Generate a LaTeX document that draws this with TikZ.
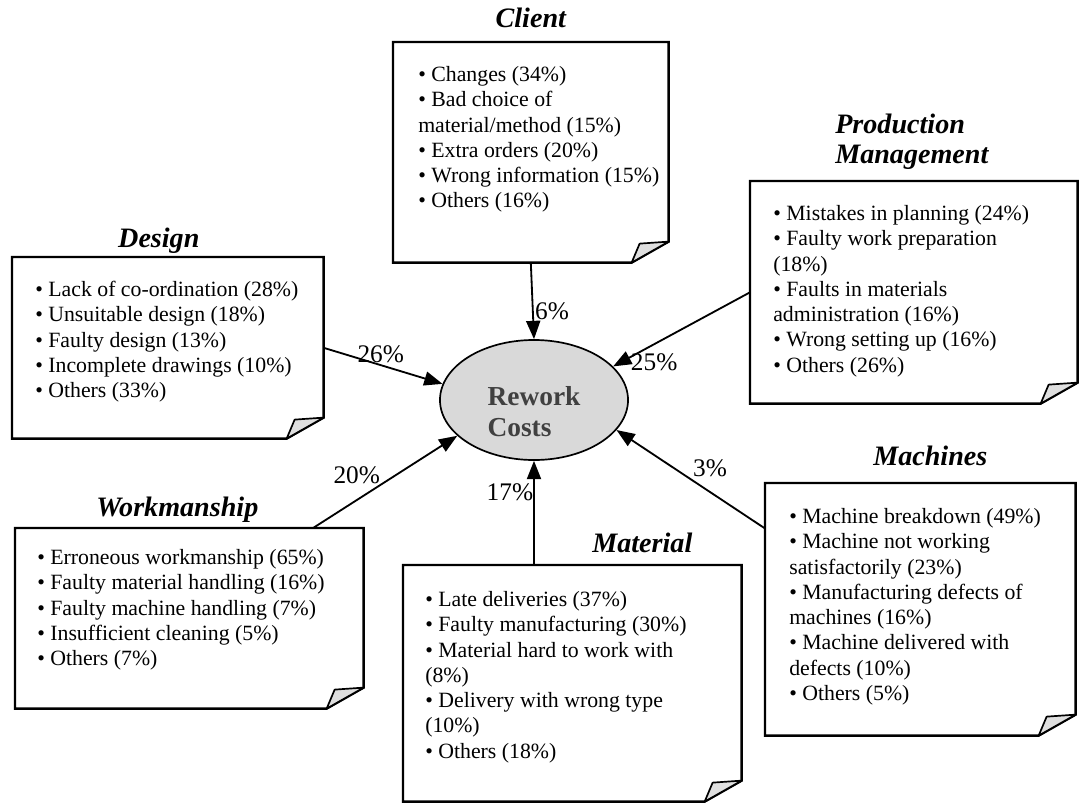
\documentclass[tikz,border=0pt]{standalone}
\usepackage{fontspec}
\setmainfont{Liberation Serif}
\usetikzlibrary{arrows.meta,calc,shapes.geometric}

% paper sheet with a dog-ear at the lower right corner
\newcommand{\foldbox}[1]{%
	\draw[boxline] (#1.north west) -- (#1.north east) -- ([shift={(0,-21)}]#1.south east)
		-- ([shift={(-37,0)}]#1.south east) -- (#1.south west) -- cycle;
	\filldraw[flap] ([shift={(-37,0)}]#1.south east) -- ([shift={(-29,-19)}]#1.south east)
		-- ([shift={(0,-21)}]#1.south east) -- cycle;
}

\begin{document}
\begin{tikzpicture}[x=0.025cm, y=-0.025cm,
	sheet/.style={rectangle, inner sep=0pt, anchor=north west},
	boxline/.style={line width=1.7pt, line join=miter},
	flap/.style={line width=1.2pt, fill=gray!25, line join=round},
	list/.style={anchor=north west, inner sep=0pt, align=left, font=\fontsize{15.5}{18}\selectfont},
	title/.style={anchor=base, inner sep=0pt, font=\fontsize{20}{21.3}\selectfont\bfseries\itshape},
	pct/.style={font=\fontsize{18}{20}\selectfont, inner sep=1pt},
	arr/.style={line width=1.3pt, -{Triangle[length=13pt,width=10pt]}}]

	\useasboundingbox (0,0) rectangle (1080,803);

	\node[ellipse, draw, line width=1.2pt, fill=gray!30, minimum width=4.7cm, minimum height=3cm,
		inner sep=0pt, align=left, text=black!75, font=\fontsize{19.5}{22.7}\selectfont\bfseries] (rework) at (534,400) {\rule{0pt}{30pt}Rework\\Costs};

	\node[sheet, minimum width=6.875cm, minimum height=5.5cm] (client) at (393,42) {};
	\node[sheet, minimum width=7.775cm, minimum height=4.525cm] (design) at (12,257) {};
	\node[sheet, minimum width=8.175cm, minimum height=5.55cm] (production) at (750,181) {};
	\node[sheet, minimum width=8.7cm, minimum height=4.5cm] (workmanship) at (15,528) {};
	\node[sheet, minimum width=8.45cm, minimum height=5.9cm] (material) at (403,565) {};
	\node[sheet, minimum width=7.75cm, minimum height=6.3cm] (machines) at (765,483) {};

	\foldbox{client}
	\foldbox{design}
	\foldbox{production}
	\foldbox{workmanship}
	\foldbox{material}
	\foldbox{machines}

	\node[title] (clientttl) at ([shift={(0,-15)}]client.north) {Client};
	\node[title] (designttl) at ([shift={(-9,-10)}]design.north) {Design};
	\node[title, anchor=north west, align=left] (productionttl) at ([shift={(85,-67)}]production.north west) {Production\\Management};
	\node[title] (workmanshipttl) at ([shift={(-12,-12)}]workmanship.north) {Workmanship};
	\node[title] (materialttl) at ([shift={(70,-13)}]material.north) {Material};
	\node[title] (machinesttl) at ([shift={(10,-18)}]machines.north) {Machines};

	\node[list] (clientlist) at ([shift={(25,24)}]client.north west) {\textbullet{} Changes (34\%)\\
		\textbullet{} Bad choice of\\
		material/method (15\%)\\
		\textbullet{} Extra orders (20\%)\\
		\textbullet{} Wrong information (15\%)\\
		\textbullet{} Others (16\%)};
	\node[list] (designlist) at ([shift={(23,24)}]design.north west) {\textbullet{} Lack of co-ordination (28\%)\\
		\textbullet{} Unsuitable design (18\%)\\
		\textbullet{} Faulty design (13\%)\\
		\textbullet{} Incomplete drawings (10\%)\\
		\textbullet{} Others (33\%)};
	\node[list] (productionlist) at ([shift={(23,24)}]production.north west) {\textbullet{} Mistakes in planning (24\%)\\
		\textbullet{} Faulty work preparation\\
		(18\%)\\
		\textbullet{} Faults in materials\\
		administration (16\%)\\
		\textbullet{} Wrong setting up (16\%)\\
		\textbullet{} Others (26\%)};
	\node[list] (workmanshiplist) at ([shift={(22,21)}]workmanship.north west) {\textbullet{} Erroneous workmanship (65\%)\\
		\textbullet{} Faulty material handling (16\%)\\
		\textbullet{} Faulty machine handling (7\%)\\
		\textbullet{} Insufficient cleaning (5\%)\\
		\textbullet{} Others (7\%)};
	\node[list] (materiallist) at ([shift={(22,26)}]material.north west) {\textbullet{} Late deliveries (37\%)\\
		\textbullet{} Faulty manufacturing (30\%)\\
		\textbullet{} Material hard to work with\\
		(8\%)\\
		\textbullet{} Delivery with wrong type\\
		(10\%)\\
		\textbullet{} Others (18\%)};
	\node[list] (machineslist) at ([shift={(24,25)}]machines.north west) {\textbullet{} Machine breakdown (49\%)\\
		\textbullet{} Machine not working\\
		satisfactorily (23\%)\\
		\textbullet{} Manufacturing defects of\\
		machines (16\%)\\
		\textbullet{} Machine delivered with\\
		defects (10\%)\\
		\textbullet{} Others (5\%)};

	\draw[arr] (client.south) -- node[pct, pos=0.63, right]{6\%} (rework.north);
	\draw[arr] (design.east) -- node[pct, pos=0.48, above]{26\%} (rework.170);
	\draw[arr] (production.west) -- node[pct, pos=0.7, below=5pt]{25\%} (rework.23);
	\draw[arr] ($(workmanship.north west)!0.855!(workmanship.north east)$) -- node[pct, pos=0.47, above left, inner sep=0pt]{20\%} (rework.205);
	\draw[arr] (rework.south |- material.north) -- node[pct, pos=0.7, left, inner sep=0pt]{17\%} (rework.south);
	\draw[arr] ($(machines.north west)!0.18!(machines.south west)$) -- node[pct, pos=0.37, above=10pt, inner sep=0pt]{3\%} (rework.340);
\end{tikzpicture}
\end{document}
